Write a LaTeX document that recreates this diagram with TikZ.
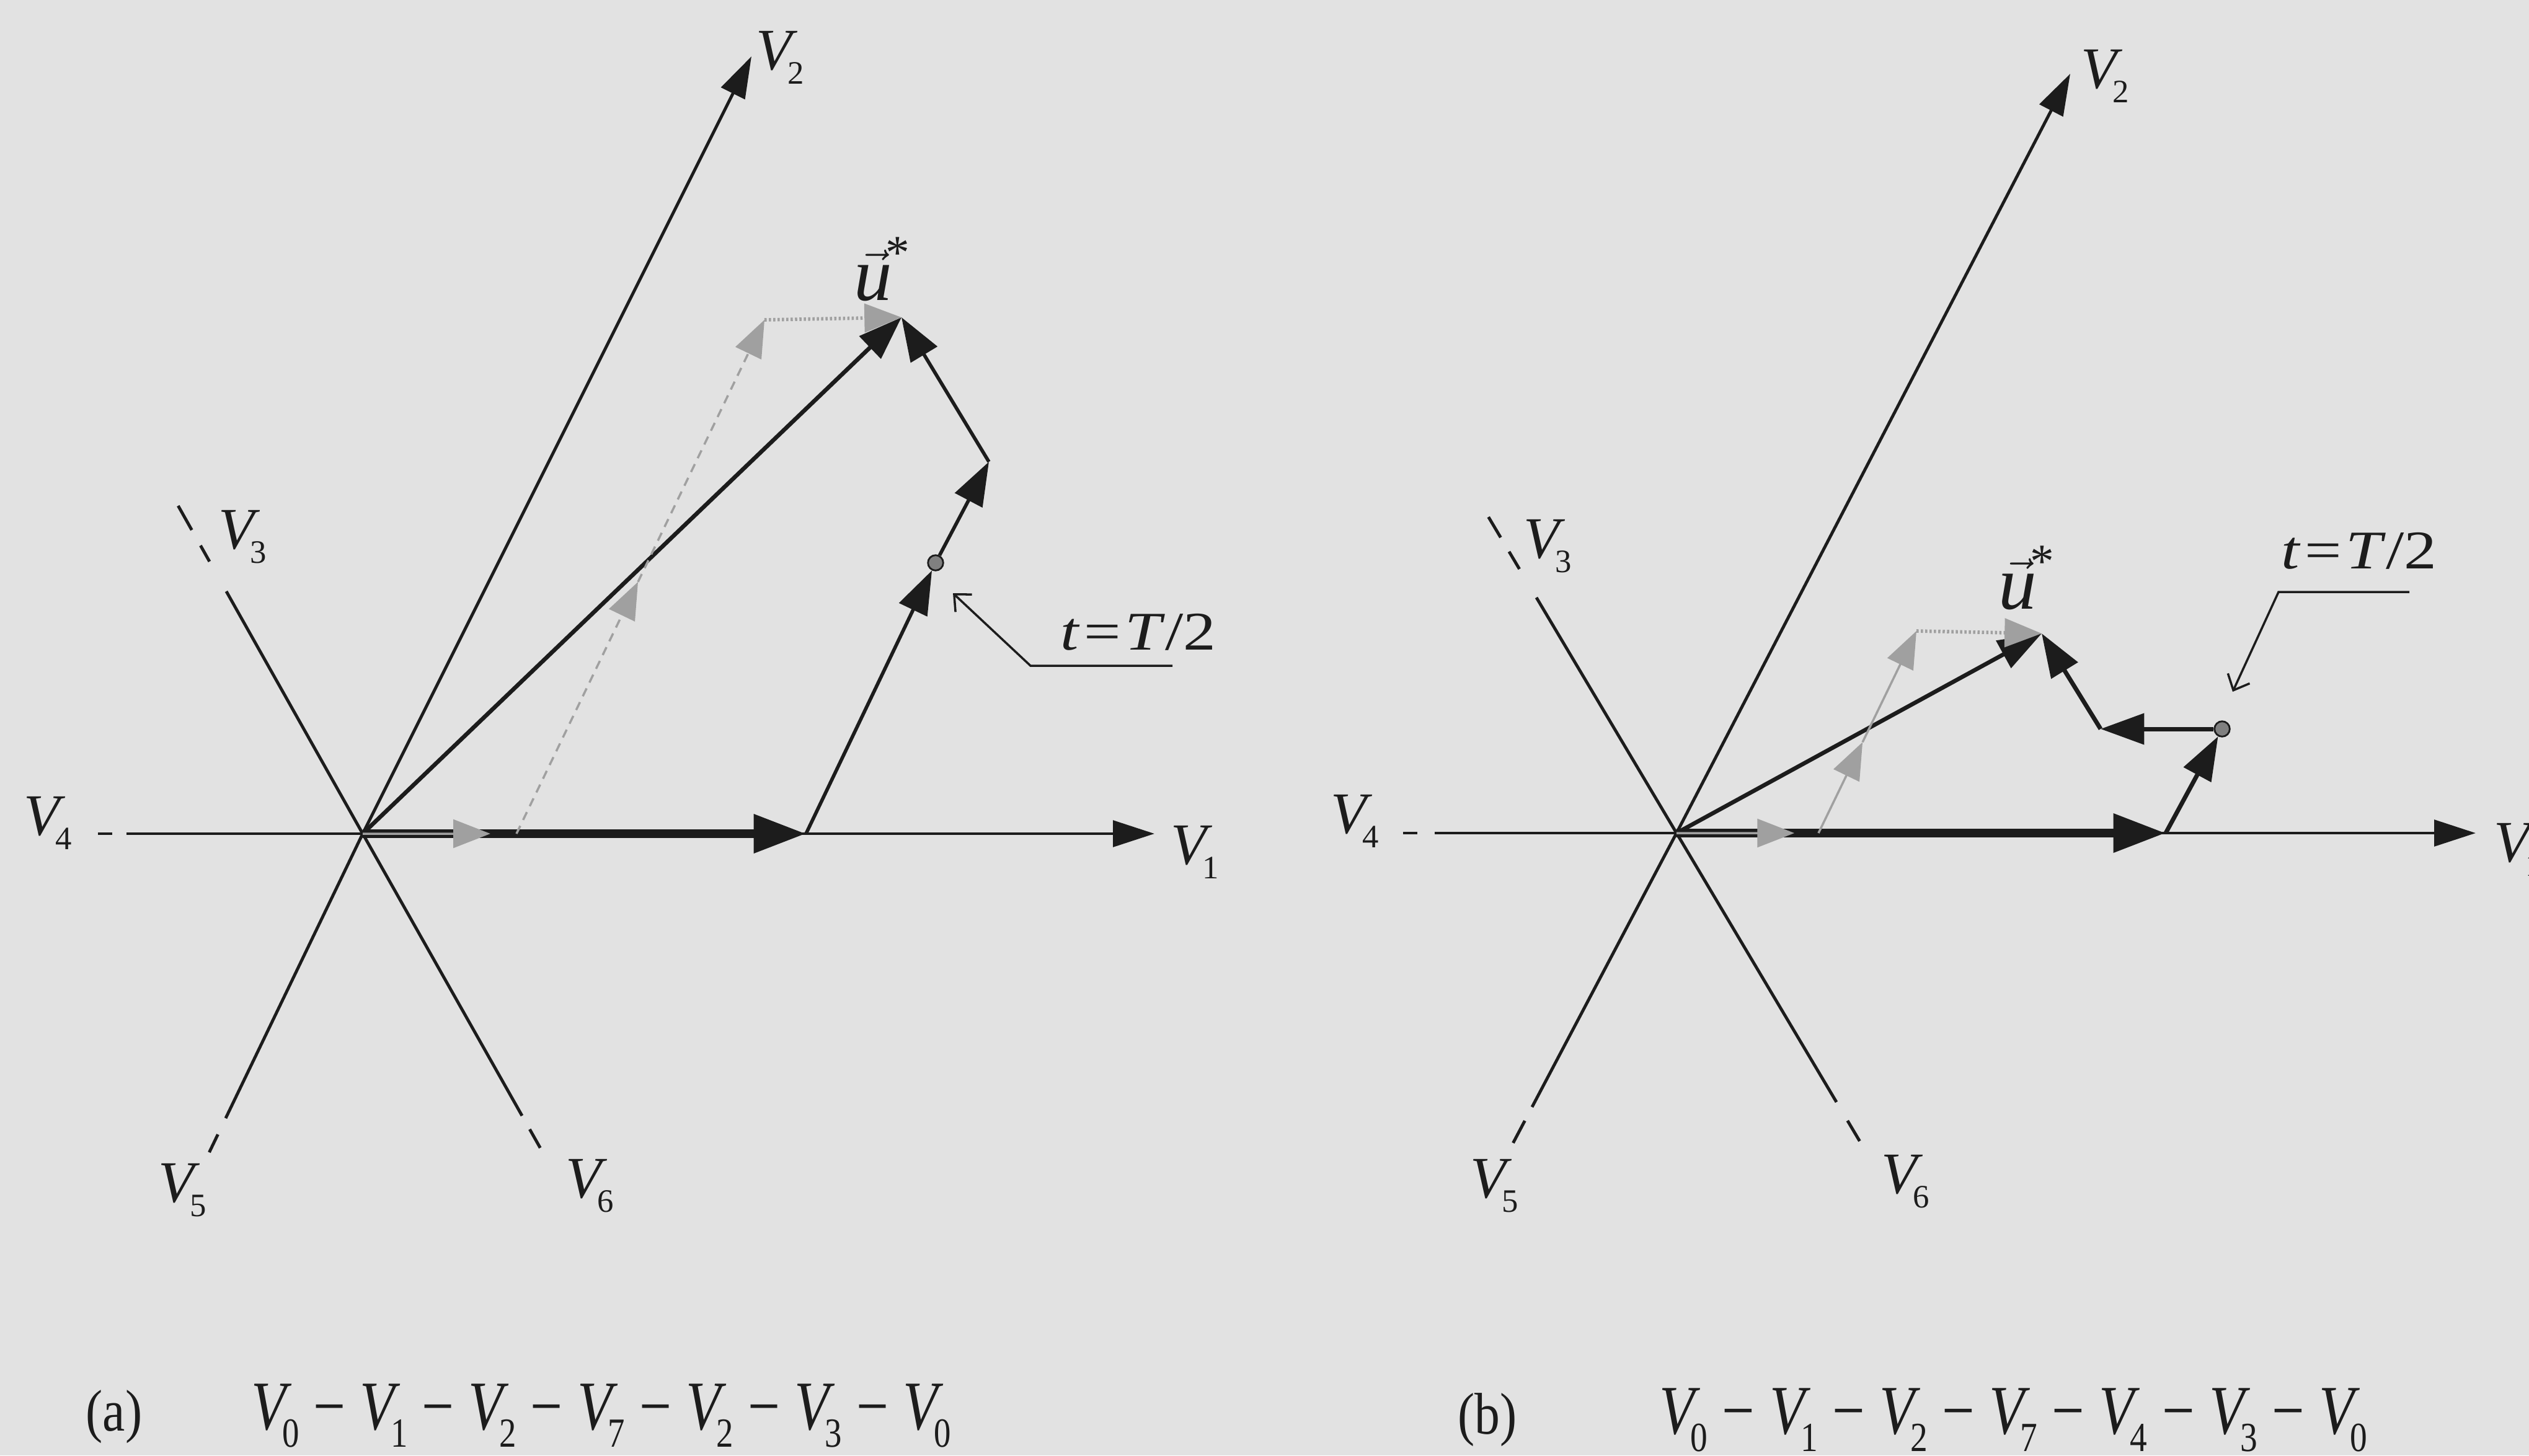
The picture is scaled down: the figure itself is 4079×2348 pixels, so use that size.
\documentclass[tikz,border=0pt]{standalone}
\usepackage{fontspec}
\setmainfont{Liberation Serif}
\usetikzlibrary{arrows.meta,calc}
\definecolor{paper}{RGB}{226,226,226}
\definecolor{ink}{RGB}{28,28,28}
\definecolor{ghost}{RGB}{160,160,160}
\newcommand{\vsym}[2]{\textit{V}\kern-0.17em\raisebox{-0.25em}{\fontsize{#1}{#1}\selectfont #2}}
\newcommand{\ustar}{$\vec{\mbox{\textit{u}}}$\kern-3pt\raisebox{14.5pt}{\fontsize{22}{22}\selectfont *}}

\begin{document}
\begin{tikzpicture}[x=0.01cm,y=-0.01cm,
  axis/.style={ink,line width=1.4pt},
  axisvec/.style={axis,-{Triangle[length=19pt,width=12pt]}},
  bigvec/.style={ink,line width=4pt,-{Triangle[length=24pt,width=17pt]}},
  refvec/.style={ink,line width=1.9pt,-{Triangle[length=20pt,width=14pt]}},
  pathvec/.style={ink,line width=1.6pt,-{Triangle[length=20pt,width=14pt]}},
  ghostvec/.style={ghost,line width=1pt,-{Triangle[length=17pt,width=13pt]}},
  leader/.style={ink,line width=1pt,-{Straight Barb[length=6pt,width=11pt]}},
  tmark/.style={circle,draw=ink,fill=gray,line width=0.8pt,inner sep=0pt,minimum size=7pt},
  lab/.style={inner sep=0pt,anchor=base west,text=ink,font=\fontsize{27}{30}\selectfont},
  ulab/.style={lab,font=\fontsize{35}{40}\selectfont},
  tlab/.style={lab,font=\fontsize{25}{28}\selectfont},
  caplab/.style={lab,font=\fontsize{32}{36}\selectfont}]
\useasboundingbox (0,0) rectangle (4079,2348);
\fill[paper] (0,0) rectangle (4079,2348);

% (a)
\coordinate (Oa) at (585,1345);
\coordinate (a1) at (1862,1345);
\coordinate (a2) at (1212,91);
\coordinate (a3) at (365,954);
\coordinate (a4) at (204,1345);
\coordinate (a5) at (364,1804);
\coordinate (a6) at (842,1800);
\coordinate (A1) at (1300,1345);
\coordinate (Ka) at (1595,745);
\coordinate (Ua) at (1454,512);
\coordinate (Gsa) at (833,1345);
\coordinate (Gca) at (1233,516);
\coordinate (Gma) at ($(Gsa)!0.49!(Gca)$);

\draw[axisvec] (a4) -- (a1);
\draw[axis] (158,1345) -- (181,1345);
\draw[axisvec] (Oa) -- (a2);
\draw[axis] (Oa) -- (a3);
\draw[axis] ($(Oa)!1.123!(a3)$) -- ($(Oa)!1.189!(a3)$);
\draw[axis] ($(Oa)!1.253!(a3)$) -- ($(Oa)!1.353!(a3)$);
\draw[axis] (Oa) -- (a5);
\draw[axis] ($(Oa)!1.057!(a5)$) -- ($(Oa)!1.12!(a5)$);
\draw[axis] (Oa) -- (a6);
\draw[axis] ($(Oa)!1.048!(a6)$) -- ($(Oa)!1.114!(a6)$);

\node[tmark] (ma) at (1509,908) {};
\draw[bigvec] (Oa) -- (A1);
\draw[refvec] (Oa) -- (Ua);
\draw[pathvec] (A1) -- (ma);
\draw[pathvec] (ma) -- (Ka);
\draw[pathvec] (Ka) -- (Ua);

\draw[ghostvec] (Oa) -- ($(Oa)!0.83!(Gsa)$);
\draw[ghostvec,dash pattern=on 4pt off 3pt] (Gsa) -- (Gma);
\draw[ghostvec,dash pattern=on 4pt off 3pt] (Gma) -- (Gca);
\draw[ghostvec,densely dotted,line width=1.6pt] (Gca) -- (Ua);

\draw[leader] (1891,1074) coordinate (La1) -- (1662,1074) coordinate (La2) -- (1537,957) coordinate (La3);

\node[lab] (v1a) at (1888,1394) {\vsym{15}{1}};
\node[lab] (v2a) at (1219,112) {\vsym{15}{2}};
\node[lab] (v3a) at (352,885) {\vsym{15}{3}};
\node[lab] (v4a) at (38,1347) {\vsym{15}{4}};
\node[lab] (v5a) at (255,1939) {\vsym{15}{5}};
\node[lab] (v6a) at (912,1932) {\vsym{15}{6}};
\node[ulab] (ua) at (1377,484) {\ustar};
\node[tlab] (tla) at (1710,1048) {\scalebox{1.2}[1]{\textit{t}\kern0.06em=\kern0.06em\textit{T}/2}};

% (b)
\coordinate (Ob) at (2704,1344);
\coordinate (b1) at (3993,1344);
\coordinate (b2) at (3339,119);
\coordinate (b3) at (2478,964);
\coordinate (b4) at (2314,1344);
\coordinate (b5) at (2471,1786);
\coordinate (b6) at (2962,1778);
\coordinate (B1) at (3493,1344);
\coordinate (Kb) at (3388,1176);
\coordinate (Ub) at (3293,1022);
\coordinate (Gsb) at (2933,1344);
\coordinate (Gcb) at (3091,1018);
\coordinate (Gmb) at ($(Gsb)!0.45!(Gcb)$);

\draw[axisvec] (b4) -- (b1);
\draw[axis] (2263,1344) -- (2286,1344);
\draw[axisvec] (Ob) -- (b2);
\draw[axis] (Ob) -- (b3);
\draw[axis] ($(Ob)!1.121!(b3)$) -- ($(Ob)!1.195!(b3)$);
\draw[axis] ($(Ob)!1.255!(b3)$) -- ($(Ob)!1.342!(b3)$);
\draw[axis] (Ob) -- (b5);
\draw[axis] ($(Ob)!1.05!(b5)$) -- ($(Ob)!1.131!(b5)$);
\draw[axis] (Ob) -- (b6);
\draw[axis] ($(Ob)!1.069!(b6)$) -- ($(Ob)!1.145!(b6)$);

\node[tmark] (mb) at (3584,1176) {};
\draw[bigvec] (Ob) -- (B1);
\draw[refvec] (Ob) -- (Ub);
\draw[pathvec,line width=2pt] (B1) -- (mb);
\draw[pathvec,line width=2pt] (mb) -- (Kb);
\draw[pathvec,line width=2pt] (Kb) -- (Ub);

\draw[ghostvec] (Ob) -- ($(Ob)!0.83!(Gsb)$);
\draw[ghostvec] (Gsb) -- (Gmb);
\draw[ghostvec] (Gmb) -- (Gcb);
\draw[ghostvec,densely dotted,line width=1.6pt] (Gcb) -- (Ub);

\draw[leader] (3886,955) coordinate (Lb1) -- (3675,955) coordinate (Lb2) -- (3601,1116) coordinate (Lb3);

\node[lab] (v1b) at (4022,1390) {\vsym{15}{1}};
\node[lab] (v2b) at (3356,142) {\vsym{15}{2}};
\node[lab] (v3b) at (2457,900) {\vsym{15}{3}};
\node[lab] (v4b) at (2146,1344) {\vsym{15}{4}};
\node[lab] (v5b) at (2371,1932) {\vsym{15}{5}};
\node[lab] (v6b) at (3034,1925) {\vsym{15}{6}};
\node[ulab] (ub) at (3223,982) {\ustar};
\node[tlab] (tlb) at (3679,917) {\scalebox{1.2}[1]{\textit{t}\kern0.06em=\kern0.06em\textit{T}/2}};

% captions
\node[lab] (capa) at (138,2308) {\scalebox{0.86}[1]{(a)}};
\node[caplab] (seqa) at (405,2306) {\scalebox{0.82}[1]{\vsym{19}{0} − \vsym{19}{1} − \vsym{19}{2} − \vsym{19}{7} − \vsym{19}{2} − \vsym{19}{3} − \vsym{19}{0}}};
\node[lab] (capb) at (2351,2313) {\scalebox{0.86}[1]{(b)}};
\node[caplab] (seqb) at (2676,2313) {\scalebox{0.83}[1]{\vsym{19}{0} − \vsym{19}{1} − \vsym{19}{2} − \vsym{19}{7} − \vsym{19}{4} − \vsym{19}{3} − \vsym{19}{0}}};
\end{tikzpicture}
\end{document}
